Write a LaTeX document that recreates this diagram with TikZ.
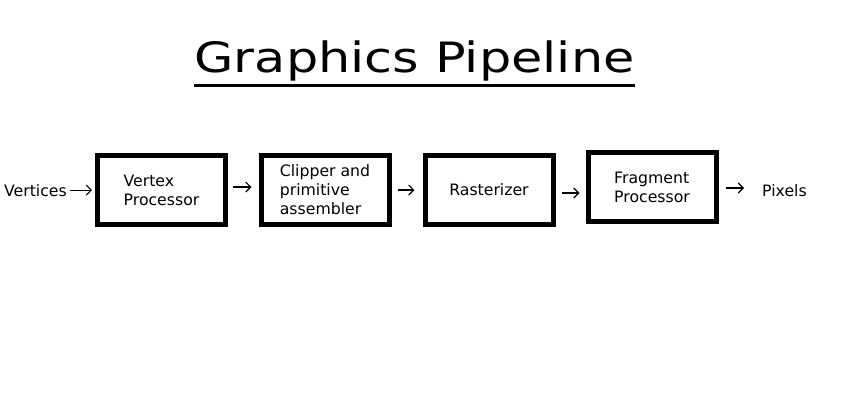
\documentclass[tikz,border=0pt]{standalone}
\usepackage{fontspec}
\setmainfont{DejaVu Sans}
\usetikzlibrary{arrows.meta, positioning, calc}

\begin{document}
\begin{tikzpicture}[x=1pt, y=-1pt,
    stage/.style={draw, line width=5pt, minimum width=128pt, minimum height=69pt,
        align=left, font=\fontsize{15.7}{19}\selectfont},
    lbl/.style={inner sep=1pt, font=\fontsize{15.7}{19}\selectfont},
    conn/.style={line width=1.1pt, -{Straight Barb[length=5pt, width=10pt]}}]
    \useasboundingbox (0,0) rectangle (845,400);
    % title
    \node[anchor=base, inner sep=0pt, font=\fontsize{55}{64}\selectfont] (title) at (414.5,72.5)
        {\scalebox{0.925}[0.76]{Graphics Pipeline}};
    \draw[line width=3pt] ([yshift=-12.5pt]title.base west) -- ([yshift=-12.5pt]title.base east);
    % stages
    \node[lbl, anchor=base west] (verts) at (3,196) {Vertices};
    \node[stage] (vproc) at (161.5,190) {Vertex\\Processor};
    \node[stage] (clip) at (325,190) {Clipper and\\primitive\\assembler};
    \node[stage] (rast) at (489,190) {Rasterizer};
    \node[stage] (fproc) at (652,187) {Fragment\\Processor};
    \node[lbl, anchor=base west] (pix) at (761,196) {Pixels};
    % arrows
    \draw[conn, shorten <=2pt, shorten >=3pt] (verts.east) -- (verts.east -| vproc.west);
    \draw[conn, shorten <=5pt, shorten >=7pt] ([yshift=3pt]vproc.east) -- ([yshift=3pt]clip.west);
    \draw[conn, shorten <=6pt, shorten >=8pt] (clip.east) -- (rast.west);
    \draw[conn, shorten <=6pt, shorten >=6pt] ([yshift=-3pt]rast.east) -- ([yshift=-3pt]rast.east -| fproc.west);
    \draw[conn, shorten <=7pt, shorten >=17pt] ([yshift=-1pt]fproc.east) -- ([yshift=-1pt]fproc.east -| pix.west);
\end{tikzpicture}
\end{document}
